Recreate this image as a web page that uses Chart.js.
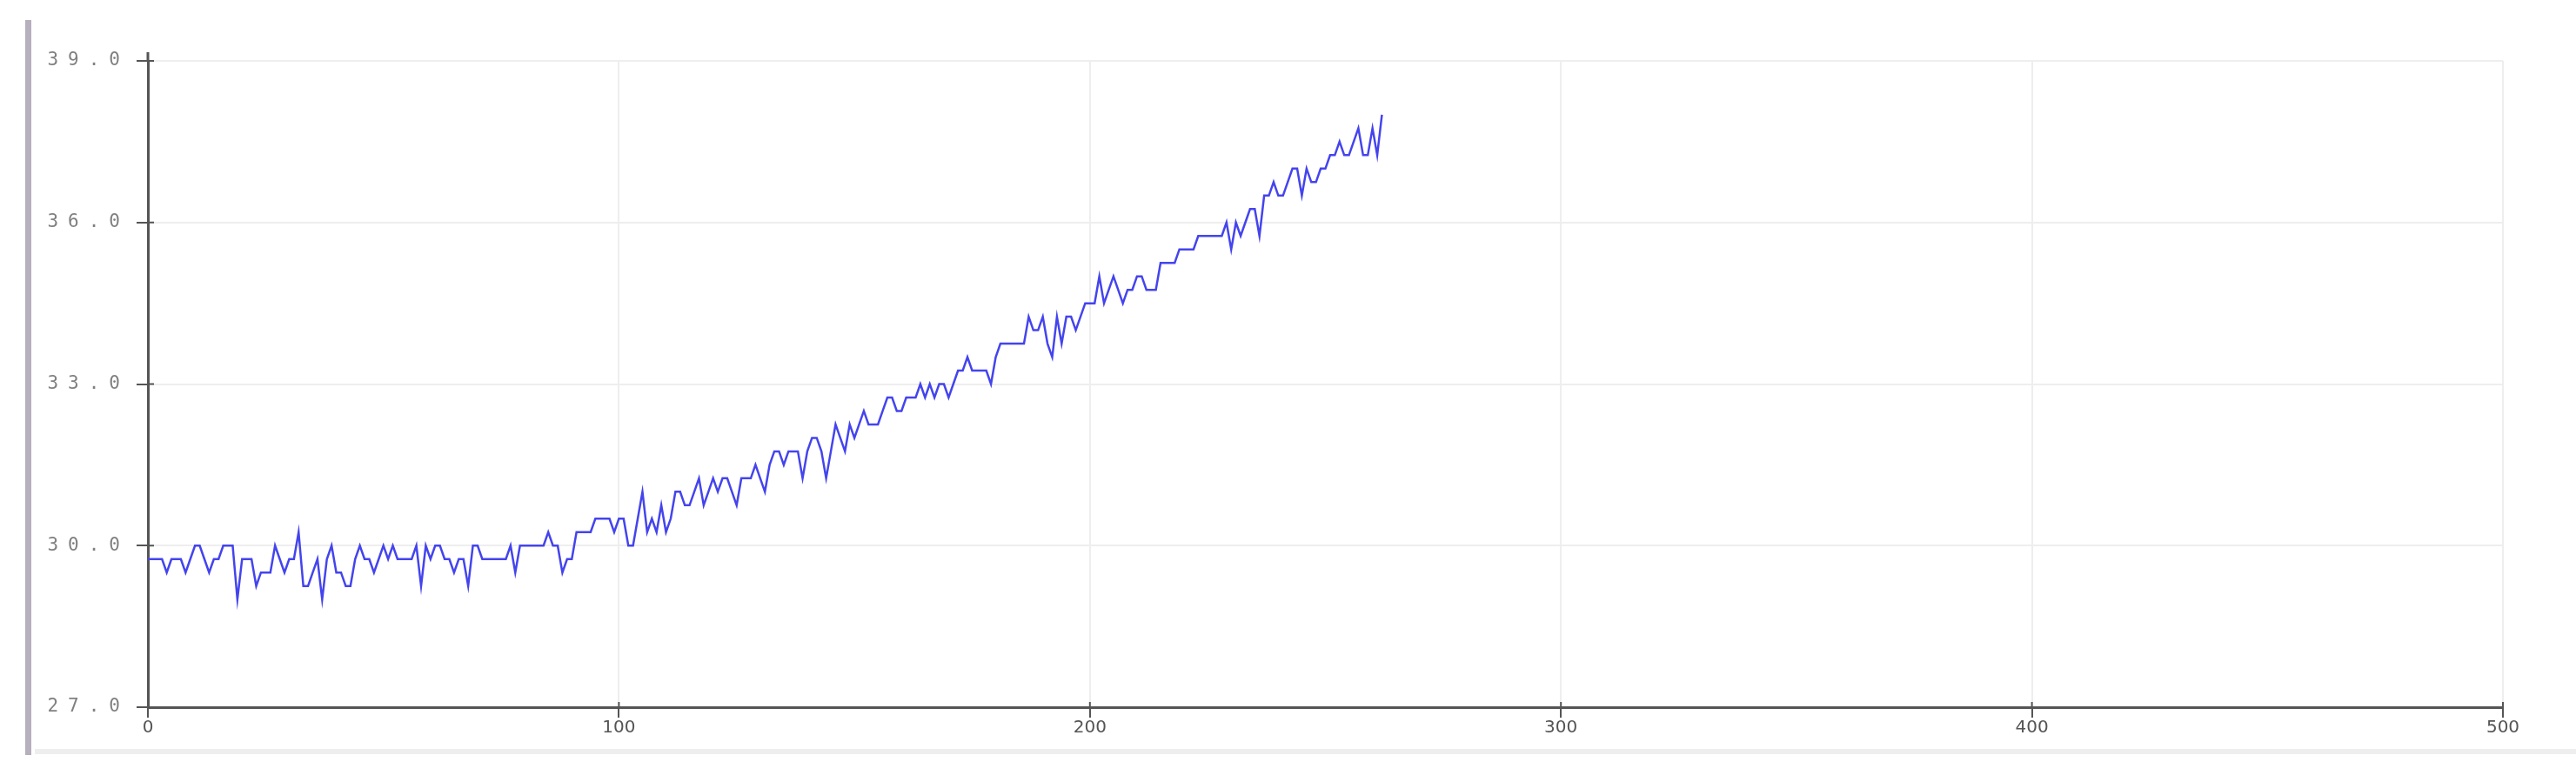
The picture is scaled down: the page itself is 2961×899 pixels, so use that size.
<!DOCTYPE html>
<html>
<head>
<meta charset="utf-8">
<script src="https://cdn.jsdelivr.net/npm/chart.js@4/dist/chart.umd.min.js"></script>
<style>
  body { margin: 0; background: #fff; }
  #wrap { position: relative; width: 2961px; height: 899px; }
  #edge { position: absolute; left: 29px; top: 23px; width: 7px; height: 845px; background: #b6afbd; }
  #foot { position: absolute; left: 40px; top: 861px; width: 2921px; height: 6px; background: #eeeeee; }
  canvas { position: absolute; left: 0; top: 0; }
</style>
</head>
<body>
<div id="wrap">
  <div id="edge"></div>
  <div id="foot"></div>
  <canvas id="myChart" width="2961" height="899"></canvas>
</div>
<script>
// temperature readings, one per sample (0.25 steps)
const temps = [
  29.75, 29.75, 29.75, 29.75, 29.5, 29.75, 29.75, 29.75, 29.5, 29.75,
  30.0, 30.0, 29.75, 29.5, 29.75, 29.75, 30.0, 30.0, 30.0, 29.0,
  29.75, 29.75, 29.75, 29.25, 29.5, 29.5, 29.5, 30.0, 29.75, 29.5,
  29.75, 29.75, 30.25, 29.25, 29.25, 29.5, 29.75, 29.0, 29.75, 30.0,
  29.5, 29.5, 29.25, 29.25, 29.75, 30.0, 29.75, 29.75, 29.5, 29.75,
  30.0, 29.75, 30.0, 29.75, 29.75, 29.75, 29.75, 30.0, 29.25, 30.0,
  29.75, 30.0, 30.0, 29.75, 29.75, 29.5, 29.75, 29.75, 29.25, 30.0,
  30.0, 29.75, 29.75, 29.75, 29.75, 29.75, 29.75, 30.0, 29.5, 30.0,
  30.0, 30.0, 30.0, 30.0, 30.0, 30.25, 30.0, 30.0, 29.5, 29.75,
  29.75, 30.25, 30.25, 30.25, 30.25, 30.5, 30.5, 30.5, 30.5, 30.25,
  30.5, 30.5, 30.0, 30.0, 30.5, 31.0, 30.25, 30.5, 30.25, 30.75,
  30.25, 30.5, 31.0, 31.0, 30.75, 30.75, 31.0, 31.25, 30.75, 31.0,
  31.25, 31.0, 31.25, 31.25, 31.0, 30.75, 31.25, 31.25, 31.25, 31.5,
  31.25, 31.0, 31.5, 31.75, 31.75, 31.5, 31.75, 31.75, 31.75, 31.25,
  31.75, 32.0, 32.0, 31.75, 31.25, 31.75, 32.25, 32.0, 31.75, 32.25,
  32.0, 32.25, 32.5, 32.25, 32.25, 32.25, 32.5, 32.75, 32.75, 32.5,
  32.5, 32.75, 32.75, 32.75, 33.0, 32.75, 33.0, 32.75, 33.0, 33.0,
  32.75, 33.0, 33.25, 33.25, 33.5, 33.25, 33.25, 33.25, 33.25, 33.0,
  33.5, 33.75, 33.75, 33.75, 33.75, 33.75, 33.75, 34.25, 34.0, 34.0,
  34.25, 33.75, 33.5, 34.25, 33.75, 34.25, 34.25, 34.0, 34.25, 34.5,
  34.5, 34.5, 35.0, 34.5, 34.75, 35.0, 34.75, 34.5, 34.75, 34.75,
  35.0, 35.0, 34.75, 34.75, 34.75, 35.25, 35.25, 35.25, 35.25, 35.5,
  35.5, 35.5, 35.5, 35.75, 35.75, 35.75, 35.75, 35.75, 35.75, 36.0,
  35.5, 36.0, 35.75, 36.0, 36.25, 36.25, 35.75, 36.5, 36.5, 36.75,
  36.5, 36.5, 36.75, 37.0, 37.0, 36.5, 37.0, 36.75, 36.75, 37.0,
  37.0, 37.25, 37.25, 37.5, 37.25, 37.25, 37.5, 37.75, 37.25, 37.25,
  37.75, 37.25, 38.0
];
const xTicks = [0, 100, 200, 300, 400, 500];
const yTicks = [27, 30, 33, 36, 39];

const ctx = document.getElementById("myChart");

// y labels are drawn after the line (ticks.z = 1) with wide letter spacing
const spacedLabels = {
  id: "spacedLabels",
  afterDatasetsDraw(chart) { chart.ctx.letterSpacing = "11px"; },
  afterDraw(chart) { chart.ctx.letterSpacing = "0px"; }
};

// little tick stubs poking into the plot, like the original plotter
const axisStubs = {
  id: "axisStubs",
  afterDraw(chart) {
    const c = chart.ctx, a = chart.chartArea;
    const xs = chart.scales.x, ys = chart.scales.y;
    c.save();
    c.strokeStyle = "#555";
    c.lineWidth = 2;
    c.beginPath();
    yTicks.forEach(v => {
      const py = ys.getPixelForValue(v);
      c.moveTo(a.left, py);
      c.lineTo(a.left + 7, py);
    });
    xTicks.forEach(v => {
      const px = xs.getPixelForValue(v);
      c.moveTo(px, a.bottom);
      c.lineTo(px, a.bottom - 6);
    });
    c.stroke();
    c.lineWidth = 3;
    c.beginPath();
    c.moveTo(a.left, a.top);
    c.lineTo(a.left, a.top - 10);
    c.stroke();
    c.restore();
  }
};

new Chart(ctx, {
  type: "line",
  data: {
    datasets: [
      {
        label: "Temperature",
        data: temps.map((t, i) => ({ x: i, y: t })),
        borderColor: "#4444ee",
        borderWidth: 2.5,
        pointRadius: 0,
        tension: 0,
        fill: false,
      },
    ],
  },
  options: {
    responsive: false,
    animation: false,
    layout: { padding: { top: 70, right: 84, left: 0, bottom: 0 } },
    plugins: { legend: { display: false }, tooltip: { enabled: false } },
    scales: {
      x: {
        type: "linear",
        min: 0,
        max: 500,
        afterBuildTicks: (s) => { s.ticks = xTicks.map(v => ({ value: v })); },
        afterFit: (s) => { s.height = 86; },
        grid: { color: "#eeeeee", lineWidth: 2, tickLength: 12, tickColor: "#555", tickWidth: 2 },
        border: { color: "#555", width: 3 },
        ticks: {
          padding: 0,
          maxRotation: 0,
          color: "#555",
          font: { family: "DejaVu Sans", size: 20 },
        },
      },
      y: {
        min: 27,
        max: 39,
        afterBuildTicks: (s) => { s.ticks = yTicks.map(v => ({ value: v })); },
        afterFit: (s) => { s.width = 170; },
        grid: { color: "#eeeeee", lineWidth: 2, tickLength: 13, tickColor: "#555", tickWidth: 2 },
        border: { color: "#555", width: 3 },
        ticks: {
          z: 1,
          padding: 8,
          color: "#808080",
          font: { family: "DejaVu Sans Mono", size: 21 },
          callback: (v) => Number(v).toFixed(1),
        },
      },
    },
  },
  plugins: [spacedLabels, axisStubs],
});
</script>
</body>
</html>
